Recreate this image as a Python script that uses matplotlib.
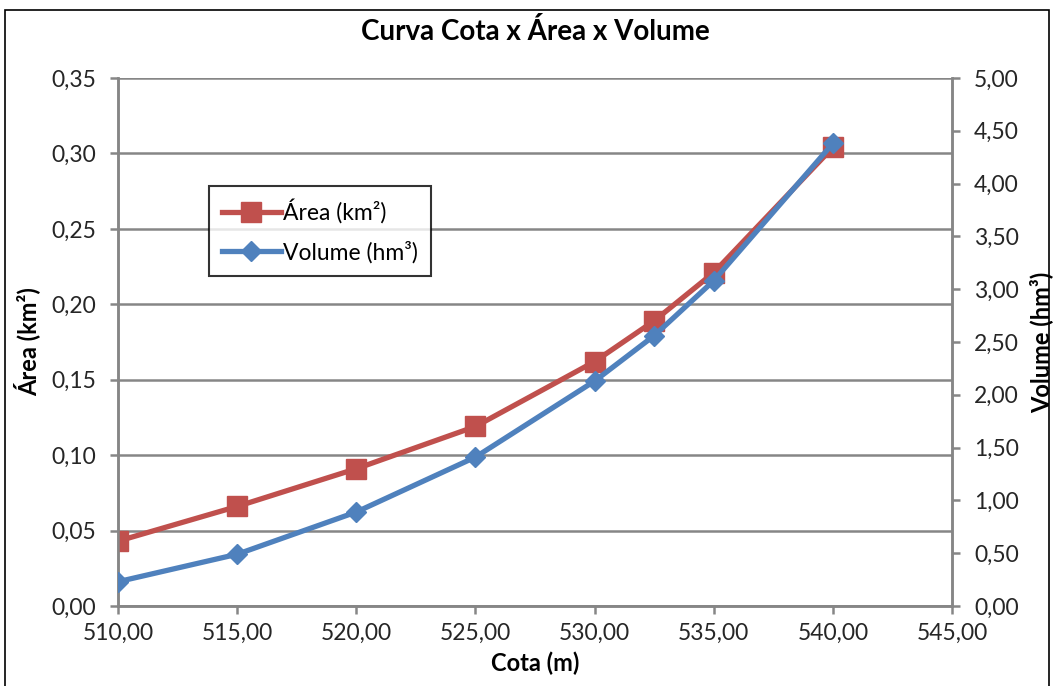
import matplotlib.pyplot as plt
from matplotlib.patches import Rectangle
from matplotlib.ticker import FuncFormatter
from matplotlib.lines import Line2D

plt.rcParams['font.family'] = ['Lato', 'DejaVu Sans']

cota = [510.0, 515.0, 520.0, 525.0, 530.0, 532.5, 535.0, 540.0]
area = [0.043, 0.066, 0.091, 0.119, 0.162, 0.189, 0.221, 0.304]
volume = [0.23, 0.49, 0.89, 1.41, 2.13, 2.56, 3.08, 4.38]

red = '#C0504D'
blue = '#4F81BD'
grey = '#868686'

fig = plt.figure(figsize=(10.54, 6.86), dpi=100)
ax = fig.add_axes([118 / 1054, 1 - 606 / 686, 834 / 1054, 528 / 686])
ax2 = ax.twinx()

comma = FuncFormatter(lambda v, p: f'{v:.2f}'.replace('.', ','))

ax.plot(cota, area, color=red, lw=3.8, marker='s', ms=14, zorder=3)
ax2.plot(cota, volume, color=blue, lw=3.8, marker='D', ms=10, zorder=3)

ax.set_xlim(510, 545)
ax.set_ylim(0, 0.35)
ax2.set_ylim(0, 5)
ax.set_xticks([510, 515, 520, 525, 530, 535, 540, 545])
ax.set_yticks([0, 0.05, 0.10, 0.15, 0.20, 0.25, 0.30, 0.35])
ax2.set_yticks([0, 0.5, 1, 1.5, 2, 2.5, 3, 3.5, 4, 4.5, 5])
ax.xaxis.set_major_formatter(comma)
ax.yaxis.set_major_formatter(comma)
ax2.yaxis.set_major_formatter(comma)

ax.yaxis.grid(True, color=grey, lw=1.8)
ax.set_axisbelow(True)
for a in (ax, ax2):
    for s in a.spines.values():
        s.set_color(grey)
        s.set_linewidth(1.8)
    a.spines['top'].set_visible(False)
    a.tick_params(colors=grey, labelcolor='#262626', labelsize=16.5,
                  length=6, width=1.8)
ax.tick_params(axis='x', pad=6)
ax.tick_params(axis='y', pad=10)
ax2.tick_params(axis='y', pad=10)

ax.set_xlabel('Cota (m)', fontsize=17, fontweight='bold', labelpad=6)
ax.set_ylabel('Área (km²)', fontsize=17, fontweight='bold', labelpad=8)
ax2.set_ylabel('Volume (hm³)', fontsize=17, fontweight='bold', labelpad=7)
ax.set_title('Curva Cota x Área x Volume', fontsize=20, fontweight='bold', pad=27)

handles = [Line2D([], [], color=red, lw=3.8, marker='s', ms=14),
           Line2D([], [], color=blue, lw=3.8, marker='D', ms=10)]
leg = fig.legend(handles, ['Área (km²)', 'Volume (hm³)'],
                 bbox_to_anchor=(209 / 1054, 1 - 186 / 686),
                 loc='upper left', fontsize=16.5, frameon=True, fancybox=False,
                 handlelength=2.6, handletextpad=0.1, borderpad=0.55,
                 labelspacing=0.75, borderaxespad=0)
leg.get_frame().set_edgecolor('black')
leg.get_frame().set_linewidth(1.5)

fig.patches.append(Rectangle((5 / 1054, -0.05), 1044 / 1054, 1.05 - 10 / 686,
                             transform=fig.transFigure, fill=False,
                             edgecolor='black', lw=1.2, zorder=10))

fig.savefig('out.png', dpi=100)
